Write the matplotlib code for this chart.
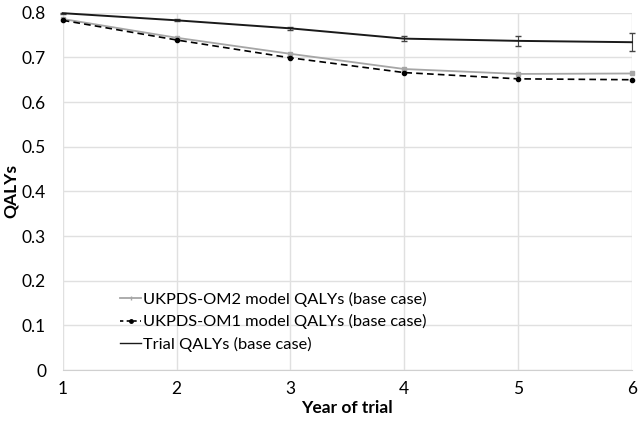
import matplotlib as mpl
import matplotlib.pyplot as plt
from matplotlib.lines import Line2D

mpl.rcParams['font.family'] = ['Lato', 'DejaVu Sans']

years = [1, 2, 3, 4, 5, 6]
om2 = [0.786, 0.744, 0.708, 0.674, 0.663, 0.664]
om1 = [0.783, 0.739, 0.699, 0.666, 0.652, 0.650]
trial = [0.799, 0.783, 0.765, 0.742, 0.737, 0.734]
trial_err = [0.001, 0.002, 0.004, 0.005, 0.011, 0.02]

fig = plt.figure(figsize=(6.4, 4.24), dpi=100)
ax = fig.add_axes([0.098, 0.127, 0.8895, 0.843])

ax.plot(years, om2, color='#a6a6a6', lw=1.3, marker='s', ms=2.5,
        clip_on=False, zorder=3)
ax.plot(years, om1, color='black', lw=1.2, ls=(0, (4, 2.5)), marker='o', ms=3,
        clip_on=False, zorder=4)
ax.errorbar(years, trial, yerr=trial_err, color='#1a1a1a', lw=1.4,
            elinewidth=0.8, capsize=2, ecolor='#444444',
            clip_on=False, zorder=5)

ax.set_xlim(1, 6)
ax.set_ylim(0, 0.8)
ax.set_xticks(years)
ax.set_yticks([0, 0.1, 0.2, 0.3, 0.4, 0.5, 0.6, 0.7, 0.8])
ax.set_yticklabels(['0', '0.1', '0.2', '0.3', '0.4', '0.5', '0.6', '0.7', '0.8'])
ax.grid(True, color='#e0e0e0', lw=1)
ax.set_axisbelow(True)
for s in ['top', 'right', 'left']:
    ax.spines[s].set_visible(False)
ax.spines['bottom'].set_color('#d0d0d0')
ax.tick_params(axis='x', length=0, labelsize=12.5, pad=8)
ax.tick_params(axis='y', length=0, labelsize=12.5, pad=12)
ax.set_xlabel('Year of trial', fontsize=12.5, fontweight='bold', labelpad=2)
ax.set_ylabel('QALYs', fontsize=12.5, fontweight='bold', labelpad=2)

handles = [
    Line2D([], [], color='#a6a6a6', lw=1.3, marker='|', ms=3),
    Line2D([], [], color='black', lw=1.2, ls=(0, (2, 2)), marker='o', ms=2.5),
    Line2D([], [], color='#1a1a1a', lw=1.0),
]
labels = ['UKPDS-OM2 model QALYs (base case)',
          'UKPDS-OM1 model QALYs (base case)',
          'Trial QALYs (base case)']
ax.legend(handles, labels, loc='lower left', bbox_to_anchor=(0.075, 0.01),
          frameon=False, fontsize=11.8, handlelength=1.3, handletextpad=0.1,
          labelspacing=0.45)

fig.savefig('out.png')
